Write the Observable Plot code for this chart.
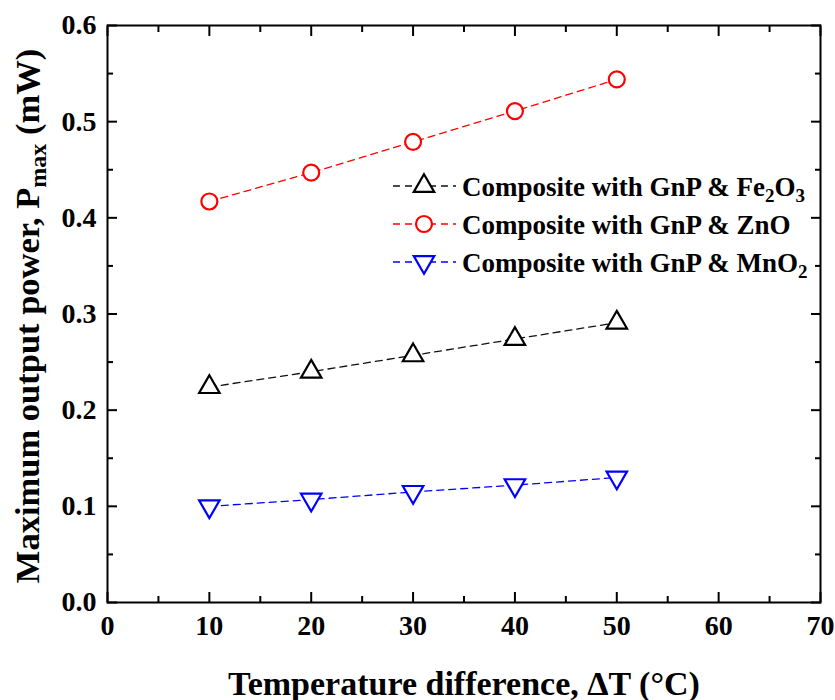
<!DOCTYPE html>
<html><head><meta charset="utf-8">
<script src="https://cdn.jsdelivr.net/npm/d3@7"></script>
<script src="https://cdn.jsdelivr.net/npm/@observablehq/plot@0.6"></script>
<style>body{margin:0;background:#fff}</style>
</head><body><div id="chart"></div>
<script>
// ---- data ----
const deltaT = [10, 20, 30, 40, 50];
const fe2o3 = [0.224, 0.240, 0.257, 0.274, 0.291];
const zno   = [0.417, 0.447, 0.479, 0.511, 0.544];
const mno2  = [0.100, 0.107, 0.115, 0.122, 0.130];
const seriesNames = ["Composite with GnP & Fe2O3", "Composite with GnP & ZnO", "Composite with GnP & MnO2"];
const xTicks = [0, 10, 20, 30, 40, 50, 60, 70];
const xMinor = [5, 15, 25, 35, 45, 55, 65];
const yTicks = [0, 0.1, 0.2, 0.3, 0.4, 0.5, 0.6];
const yMinor = [0.05, 0.15, 0.25, 0.35, 0.45, 0.55];
const xTitle = "Temperature difference, ΔT (°C)";

const colors = ["#111111", "#ff0000", "#0000ff"];
const symbols = ["triangle", "circle", "triangle"];
const rotations = [0, 0, 180];
const values = [fe2o3, zno, mno2];
const rows = [];
values.forEach((vals, s) => deltaT.forEach((t, i) => rows.push({s, t, v: vals[i]})));

const FONT = "'Liberation Serif', 'Times New Roman', serif";
const tickMarks = (anchor, ticks, size) => (anchor === "top" || anchor === "bottom")
  ? Plot.axisX(ticks, {anchor, tickSize: -size, tickFormat: () => "", label: null, strokeWidth: 2})
  : Plot.axisY(ticks, {anchor, tickSize: -size, tickFormat: () => "", label: null, strokeWidth: 2});

const marks = [];
["top", "bottom"].forEach(a => { marks.push(tickMarks(a, xTicks, 10)); marks.push(tickMarks(a, xMinor, 6)); });
["left", "right"].forEach(a => { marks.push(tickMarks(a, yTicks, 10)); marks.push(tickMarks(a, yMinor, 6)); });
marks.push(Plot.axisX(xTicks, {anchor: "bottom", tickSize: 0, tickPadding: 13, fontSize: 28, label: null}));
marks.push(Plot.axisY(yTicks, {anchor: "left", tickSize: 0, tickPadding: 11, fontSize: 28, tickFormat: d3.format(".1f"), label: null}));
[0, 1, 2].forEach(s => {
  const data = rows.filter(r => r.s === s);
  marks.push(Plot.line(data, {x: "t", y: "v", stroke: colors[s], strokeWidth: 1.3, strokeDasharray: "7,5"}));
  marks.push(Plot.dot(data, {x: "t", y: "v", symbol: symbols[s], rotate: rotations[s], r: s === 1 ? 8 : 7.6,
    stroke: s === 0 ? "#000" : colors[s], fill: "white", strokeWidth: 2.2}));
});
marks.push(Plot.frame({stroke: "#000", strokeWidth: 2}));
marks.push(Plot.text([xTitle], {frameAnchor: "bottom", lineAnchor: "bottom", dy: 92, fontSize: 34, fontWeight: "bold", text: d => d}));

const plot = Plot.plot({
  width: 835, height: 700,
  marginLeft: 107, marginRight: 15, marginTop: 25, marginBottom: 98,
  x: {domain: [0, 70]},
  y: {domain: [0, 0.6]},
  style: {fontFamily: FONT, fontWeight: "bold", color: "#000", background: "#fff"},
  marks
});
document.getElementById("chart").appendChild(plot);

// y-axis title with subscript
const svg = d3.select(plot);
const yt = svg.append("text")
  .attr("transform", "translate(39,316) rotate(-90)")
  .attr("text-anchor", "middle")
  .attr("font-family", FONT).attr("font-weight", "bold").attr("font-size", 34.5).attr("fill", "#000");
yt.append("tspan").text("Maximum output power, P");
yt.append("tspan").attr("font-size", 24).attr("dy", 7).text("max");
yt.append("tspan").attr("dy", -7).text(" (mW)");

// legend
const legBase = [196, 234, 272];
seriesNames.forEach((name, s) => {
  const y = legBase[s] - 10;
  svg.append("line").attr("x1", 393).attr("x2", 456).attr("y1", y).attr("y2", y)
    .attr("stroke", colors[s]).attr("stroke-width", 1.3).attr("stroke-dasharray", "7,5");
  const sym = s === 1 ? d3.symbolCircle : d3.symbolTriangle;
  const size = s === 1 ? Math.PI * 64 : Math.PI * 7.6 * 7.6;
  svg.append("path").attr("d", d3.symbol(sym, size)())
    .attr("transform", `translate(424,${y}) rotate(${rotations[s]})`)
    .attr("fill", "white").attr("stroke", s === 0 ? "#000" : colors[s]).attr("stroke-width", 2.2);
  const t = svg.append("text").attr("x", 462).attr("y", legBase[s]).attr("text-anchor", "start")
    .attr("font-family", FONT).attr("font-weight", "bold").attr("font-size", 27).attr("fill", "#000");
  const parts = name.split(/(\d)/).filter(p => p !== "");
  let sub = false;
  parts.forEach(p => {
    if (/^\d$/.test(p)) { t.append("tspan").attr("font-size", 19).attr("dy", 6).text(p); sub = true; }
    else { t.append("tspan").attr("dy", sub ? -6 : 0).text(p); sub = false; }
  });
});
</script></body></html>
